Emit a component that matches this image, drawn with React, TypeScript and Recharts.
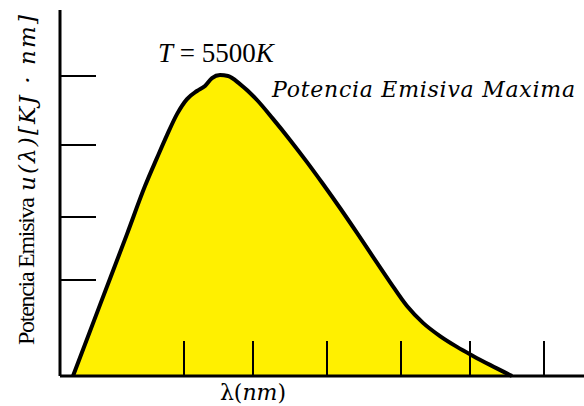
import React from 'react';
import { AreaChart, Area, XAxis, YAxis, Customized } from 'recharts';

// wavelength positions (arbitrary units along the axis)
const lambda = [13, 40, 67, 85, 97, 107, 117, 127, 137, 145, 152, 160, 168, 180, 197, 213, 230, 247, 263, 280, 297, 313, 330, 347, 363, 380, 397, 413, 430, 452];
// emissive power u(λ) (arbitrary units, peak ≈ 100)
const emission = [0, 23.7, 47.3, 63.3, 72.7, 80.3, 87.3, 92.3, 95, 96.7, 99.3, 100.3, 100, 97.3, 92, 85.7, 78.7, 71.3, 64, 56, 47.7, 39.7, 31.3, 23.3, 17.7, 13.3, 9.7, 6.7, 3.7, 0];

const xTicks = [124, 193, 267, 341, 410, 484];
const yTicks = [32, 53, 77, 100];

const data = lambda.map((x, i) => ({ x, u: emission[i] }));

const titleText = '5500';
const peakLabel = 'Potencia Emisiva Maxima';
const yLabelMain = 'Potencia Emisiva';
const yLabelMath = 'u(λ)[KJ · nm]';

const Texts = () => (
  <g>
    <text x={158} y={62} fontFamily="'Liberation Serif', serif" fontSize={27} fill="#000">
      <tspan fontStyle="italic">T</tspan>
      <tspan> = {titleText}</tspan>
      <tspan fontStyle="italic">K</tspan>
    </text>
    <text
      x={272}
      y={97}
      fontFamily="'DejaVu Serif', serif"
      fontStyle="italic"
      fontSize={22}
      textLength={303}
      lengthAdjust="spacing"
      fill="#000"
    >
      {peakLabel}
    </text>
    <text
      transform="translate(34,345) rotate(-90)"
      x={0}
      y={0}
      fontFamily="'Liberation Serif', serif"
      fontSize={24}
      textLength={148}
      lengthAdjust="spacing"
      fill="#000"
    >
      {yLabelMain}
    </text>
    <text
      transform="translate(35,191) rotate(-90)"
      x={0}
      y={0}
      fontFamily="'DejaVu Serif', serif"
      fontStyle="italic"
      fontSize={23}
      textLength={176}
      lengthAdjust="spacing"
      fill="#000"
    >
      {yLabelMath}
    </text>
    <text x={253} y={400} textAnchor="middle" fontFamily="'DejaVu Serif', serif" fontSize={22} fill="#000">
      <tspan>λ(</tspan>
      <tspan fontStyle="italic">nm</tspan>
      <tspan>)</tspan>
    </text>
  </g>
);

export default function App() {
  return (
    <div style={{ position: 'absolute', left: 0, top: 0, width: 584, height: 406, background: '#fff' }}>
      <AreaChart width={584} height={406} data={data} margin={{ top: 10, right: 0, bottom: 30, left: 60 }}>
        <Area
          type="monotone"
          dataKey="u"
          stroke="#000"
          strokeWidth={4}
          fill="#FFF000"
          fillOpacity={1}
          isAnimationActive={false}
          dot={false}
          activeDot={false}
        />
        <XAxis
          type="number"
          dataKey="x"
          domain={[0, 524]}
          ticks={xTicks}
          mirror
          tickSize={35}
          tickFormatter={() => ''}
          axisLine={{ stroke: '#000', strokeWidth: 3 }}
          tickLine={{ stroke: '#000', strokeWidth: 2 }}
        />
        <YAxis
          type="number"
          domain={[0, 122]}
          ticks={yTicks}
          mirror
          tickSize={36}
          tickFormatter={() => ''}
          axisLine={{ stroke: '#000', strokeWidth: 3 }}
          tickLine={{ stroke: '#000', strokeWidth: 2 }}
        />
        <Customized component={Texts} />
      </AreaChart>
    </div>
  );
}
